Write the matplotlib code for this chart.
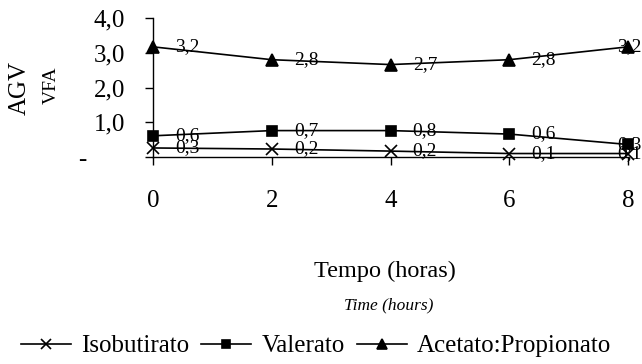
import matplotlib
matplotlib.use("Agg")
import matplotlib.pyplot as plt
from matplotlib.ticker import FixedLocator

plt.rcParams['font.family'] = ['Liberation Serif', 'DejaVu Serif']

hours = [0, 2, 4, 6, 8]
isobutirato = [0.26, 0.23, 0.17, 0.10, 0.10]
valerato = [0.61, 0.76, 0.76, 0.66, 0.36]
acet_prop = [3.17, 2.80, 2.66, 2.80, 3.17]
iso_labels = ["0,3", "0,2", "0,2", "0,1", "0,1"]
val_labels = ["0,6", "0,7", "0,8", "0,6", "0,3"]
ap_labels = ["3,2", "2,8", "2,7", "2,8", "3,2"]
yticks = [0, 1, 2, 3, 4]
ytick_labels = ["-      ", "1,0", "2,0", "3,0", "4,0"]
xticks = [0, 2, 4, 6, 8]

fig = plt.figure(figsize=(6.42, 3.64), dpi=100)
ax = fig.add_axes([153/642, 1-157/364, (628-153)/642, (157-18)/364])

series = [
    (isobutirato, iso_labels, 'x', 8, "Isobutirato"),
    (valerato, val_labels, 's', 6.5, "Valerato"),
    (acet_prop, ap_labels, '^', 8.5, "Acetato:Propionato"),
]
for vals, labs, mk, ms, name in series:
    ax.plot(hours, vals, color='black', lw=1.2, marker=mk, ms=ms,
            mew=1.2, label=name, clip_on=False, zorder=3)
    for i, (x, y, t) in enumerate(zip(hours, vals, labs)):
        dx = 16 if i < len(hours) - 1 else -8
        ax.annotate(t, (x, y), xytext=(dx, 0), textcoords='offset points',
                    ha='left', va='center', fontsize=14, annotation_clip=False)

ax.set_xlim(0, 8)
ax.set_ylim(0, 4)
ax.xaxis.set_major_locator(FixedLocator(xticks))
ax.set_xticklabels([str(h) for h in xticks])
ax.yaxis.set_major_locator(FixedLocator(yticks))
ax.set_yticklabels(ytick_labels)
for s in ['top', 'right']:
    ax.spines[s].set_visible(False)
for s in ['left', 'bottom']:
    ax.spines[s].set_linewidth(1.0)
ax.tick_params(axis='x', direction='out', length=6, width=1, pad=18, labelsize=18)
ax.tick_params(axis='y', direction='out', length=6, width=1, pad=14, labelsize=18)

fig.text(20/642, 1-88/364, "AGV", rotation=90, ha='center', va='center', fontsize=18)
fig.text(51/642, 1-85/364, "VFA", rotation=90, ha='center', va='center', fontsize=14)
fig.text(385/642, 1-271/364, "Tempo (horas)", ha='center', va='center', fontsize=17.5)
fig.text(389/642, 1-305/364, "Time (hours)", ha='center', va='center', fontsize=12.5, style='italic')

handles, labels = ax.get_legend_handles_labels()
fig.legend(handles, labels, loc='center', bbox_to_anchor=(316/642, 1-346/364),
           ncol=3, frameon=False, fontsize=18, handlelength=2.0,
           handletextpad=0.4, columnspacing=0.5, markerscale=0.85,
           borderpad=0, borderaxespad=0)

fig.savefig("out.png", dpi=100)
